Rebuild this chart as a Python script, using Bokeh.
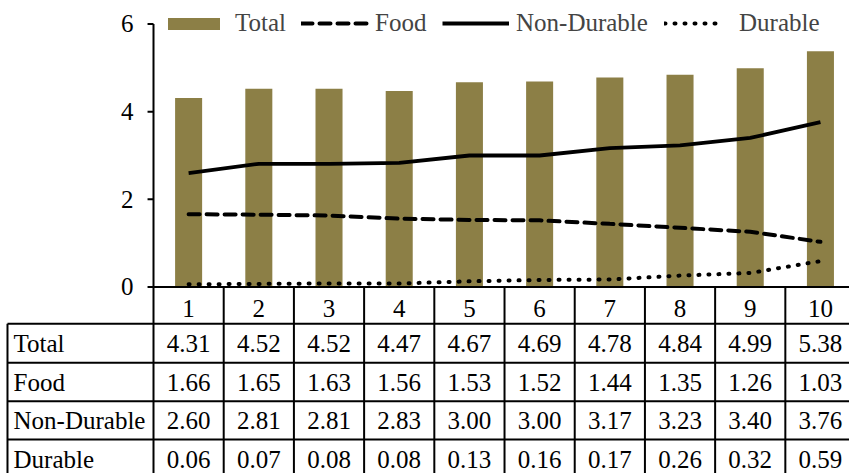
from bokeh.plotting import figure
from bokeh.models import Range1d, Legend, LegendItem
from bokeh.core.properties import value
from bokeh.embed import file_html
from bokeh.resources import INLINE

# ---- data ----
categories = [1, 2, 3, 4, 5, 6, 7, 8, 9, 10]
total = [4.31, 4.52, 4.52, 4.47, 4.67, 4.69, 4.78, 4.84, 4.99, 5.38]
food = [1.66, 1.65, 1.63, 1.56, 1.53, 1.52, 1.44, 1.35, 1.26, 1.03]
non_durable = [2.60, 2.81, 2.81, 2.83, 3.00, 3.00, 3.17, 3.23, 3.40, 3.76]
durable = [0.06, 0.07, 0.08, 0.08, 0.13, 0.16, 0.17, 0.26, 0.32, 0.59]
series_names = ["Total", "Food", "Non-Durable", "Durable"]
y_ticks = [0, 2, 4, 6]

# ---- layout ----
FONT = value("Liberation Serif")
FS = "25px"
X0, X1 = -1.6795, 10.414
Y0, Y1 = -4.255, 6.536
TABLE_LEFT = -1.58
row_edges = [0, -0.840, -1.729, -2.606, -3.479]
header_y = -0.50
row_centers = [-1.29, -2.17, -3.045, -3.93]
BAR_COLOR = "#8C7F46"
LW = 2

p = figure(width=849, height=473, output_backend="svg", toolbar_location=None,
           x_range=Range1d(X0, X1), y_range=Range1d(Y0, Y1), min_border=0)
p.xaxis.visible = False
p.yaxis.visible = False
p.xgrid.visible = False
p.ygrid.visible = False
p.outline_line_color = None

# bars and lines
bar_r = p.vbar(x=categories, top=total, bottom=0, width=0.385, fill_color=BAR_COLOR,
               line_color=None)
food_r = p.line(categories, food, line_color="black", line_width=4, line_dash="11 7",
                line_cap="round")
nd_r = p.line(categories, non_durable, line_color="black", line_width=3.8)
dur_r = p.line(categories, durable, line_color="black", line_width=4, line_dash="1 9",
               line_cap="round")

# axis / table grid
bounds = [c - 0.5 for c in categories] + [categories[-1] + 0.5]
p.segment(x0=[0.5], y0=[y_ticks[-1]], x1=[0.5], y1=[Y0], line_color="black", line_width=LW)
p.segment(x0=[0.415] * len(y_ticks), y0=y_ticks, x1=[0.5] * len(y_ticks), y1=y_ticks,
          line_color="black", line_width=LW)
p.segment(x0=[0.5], y0=[0], x1=[X1 + 1], y1=[0], line_color="black", line_width=LW)
p.segment(x0=bounds[1:], y0=[0] * len(bounds[1:]), x1=bounds[1:], y1=[Y0] * len(bounds[1:]),
          line_color="black", line_width=LW)
p.segment(x0=[TABLE_LEFT] * 4, y0=row_edges[1:], x1=[X1 + 1] * 4, y1=row_edges[1:],
          line_color="black", line_width=LW)
p.segment(x0=[TABLE_LEFT], y0=[row_edges[1]], x1=[TABLE_LEFT], y1=[Y0],
          line_color="black", line_width=LW)

# y tick labels
p.text(x=[0.215] * len(y_ticks), y=y_ticks, text=[str(t) for t in y_ticks],
       text_align="right", text_baseline="middle", text_font=FONT, text_font_size=FS,
       text_color="black")

# header (category) labels
p.text(x=categories, y=[header_y] * len(categories), text=[str(c) for c in categories],
       text_align="center", text_baseline="middle", text_font=FONT, text_font_size=FS,
       text_color="black")

# row labels
p.text(x=[-1.494] * 4, y=row_centers, text=series_names, text_align="left",
       text_baseline="middle", text_font=FONT, text_font_size=FS, text_color="black")

# cell values
for vals, yc in zip([total, food, non_durable, durable], row_centers):
    p.text(x=categories, y=[yc] * len(categories), text=["%.2f" % v for v in vals],
           text_align="center", text_baseline="middle", text_font=FONT,
           text_font_size=FS, text_color="black")

# legends (one per item to match spacing)
def add_leg(label, r, x, gw, standoff, gh=20):
    leg = Legend(items=[LegendItem(label=label, renderers=[r])], location=(x, 436),
                 glyph_width=gw, glyph_height=gh, label_standoff=standoff,
                 label_text_font="Liberation Serif", label_text_font_size=FS,
                 border_line_color=None, background_fill_alpha=0, padding=0, margin=0)
    p.add_layout(leg, "center")

add_leg("Total", bar_r, 161, 65, 9, gh=15)
add_leg("Food", food_r, 301, 68, 6)
add_leg("Non-Durable", nd_r, 442, 67, 7)
add_leg("Durable", dur_r, 664, 60, 15)

open("out.html", "w").write(file_html(p, INLINE))
